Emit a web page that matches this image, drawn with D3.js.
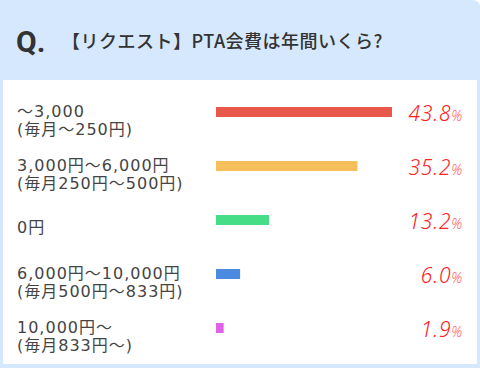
<!DOCTYPE html>
<html><head><meta charset="utf-8">
<script src="https://cdn.jsdelivr.net/npm/d3@7"></script>
<style>
html,body{margin:0;padding:0;background:#fff;}
svg{display:block;}
</style></head><body>
<svg id="c" width="480" height="368"></svg>
<script>
const titleQ = "Q.";
const titleText = "【リクエスト】PTA会費は年間いくら?";
const categoriesLine1 = ["～3,000", "3,000円～6,000円", "0円", "6,000円～10,000円", "10,000円～"];
const categoriesLine2 = ["(毎月～250円)", "(毎月250円～500円)", "", "(毎月500円～833円)", "(毎月833円～)"];
const values = [43.8, 35.2, 13.2, 6.0, 1.9];
const colors = ["#e8594b", "#f5bf5c", "#45de87", "#4a8ae0", "#e060e8"];

const svg = d3.select("#c");
const W = 480, H = 368;

// background
svg.append("path")
  .attr("d", `M0,0 H${W-8} Q${W},0 ${W},8 V${H} H0 Z`)
  .attr("fill", "#d6e8fd");
svg.append("rect").attr("x", 3).attr("y", 80).attr("width", 474).attr("height", 284).attr("fill", "#fff");

// title
svg.append("text").attr("x", 16).attr("y", 52)
  .attr("font-family", "Roboto, 'Noto Sans', sans-serif").attr("font-weight", 700)
  .attr("font-size", 30).attr("fill", "#333").text(titleQ);
svg.append("text").attr("x", 62).attr("y", 48)
  .attr("font-family", "'Noto Sans CJK JP', sans-serif").attr("font-weight", 500)
  .attr("font-size", 18).attr("letter-spacing", 0.5).attr("fill", "#333").text(titleText);

const y = d3.scaleBand().domain(d3.range(values.length)).range([85, 355]).paddingInner(0);
const x = d3.scaleLinear().domain([0, 43.8]).range([216, 392]);

const rows = svg.append("g").selectAll("g").data(values).join("g");
const bandMid = i => y(i) + y.bandwidth() / 2;

rows.append("rect")
  .attr("x", x(0))
  .attr("y", (d, i) => bandMid(i) - 5)
  .attr("width", d => x(d) - x(0))
  .attr("height", 10)
  .attr("fill", (d, i) => colors[i]);

const lab = rows.append("text")
  .attr("font-family", "'DejaVu Sans', 'Noto Sans CJK JP', sans-serif")
  .attr("font-size", 16).attr("letter-spacing", 1).attr("fill", "#444");
lab.append("tspan").attr("x", 17)
  .attr("y", (d, i) => categoriesLine2[i] ? bandMid(i) + 5 : bandMid(i) + 13)
  .text((d, i) => categoriesLine1[i]);
lab.append("tspan").attr("x", 17)
  .attr("y", (d, i) => bandMid(i) + 23)
  .text((d, i) => categoriesLine2[i]);

const pct = rows.append("text")
  .attr("x", 463).attr("y", (d, i) => bandMid(i) + 9)
  .attr("text-anchor", "end")
  .attr("font-family", "'Noto Sans', sans-serif").attr("font-style", "italic").attr("font-weight", 300)
  .attr("letter-spacing", 0.8)
  .attr("fill", "#ff2020");
pct.append("tspan").attr("font-size", 21).text(d => d.toFixed(1));
pct.append("tspan").attr("font-size", 14).attr("fill", "#ff6060").text("%");
</script>
</body></html>
